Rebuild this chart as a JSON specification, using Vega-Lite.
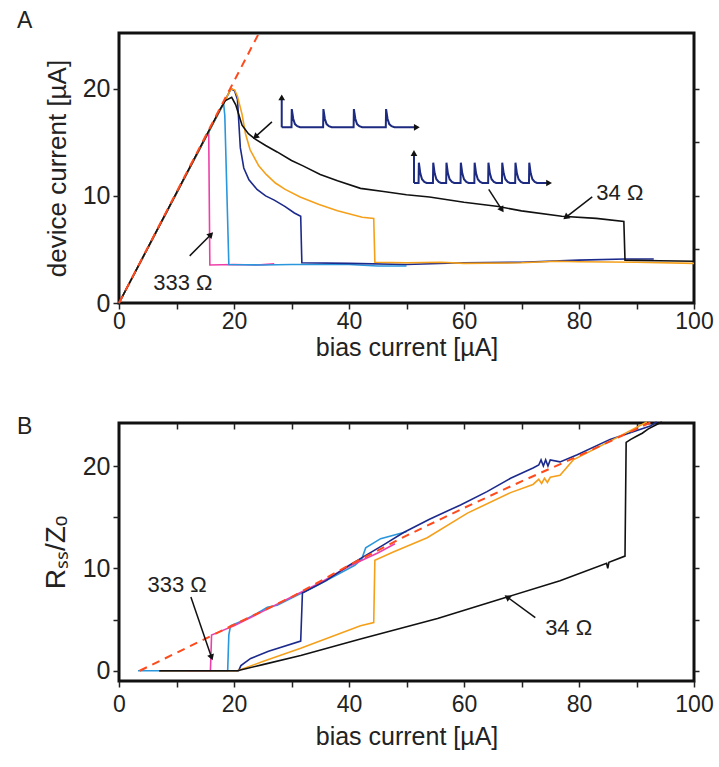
{
  "$schema": "https://vega.github.io/schema/vega-lite/v6.json",
  "background": "white",
  "padding": {"left": 15, "top": 8, "right": 4, "bottom": 4},
  "autosize": {"type": "pad"},
  "spacing": 120,
  "bounds": "flush",
  "config": {
    "view": {"stroke": "#111", "strokeWidth": 3},
    "axis": {"domain": false, "grid": false, "labelFont": "Liberation Sans", "labelFontSize": 23, "labelColor": "#222", "titleFont": "Liberation Sans", "titleFontSize": 25, "titleFontWeight": "normal", "titleColor": "#222", "tickColor": "#222", "tickWidth": 1.5, "tickSize": 6, "labelPadding": 3, "labelOverlap": false, "labelFlush": false},
    "axisY": {"labelFontSize": 25, "titleFontSize": 26},
    "title": {"font": "Liberation Sans", "fontSize": 23, "fontWeight": "normal", "color": "#222", "anchor": "start", "frame": "group"},
    "line": {"clip": true},
    "text": {"font": "Liberation Sans", "fontSize": 22, "color": "#222"}
  },
  "datasets": {
    "topCurves": [
      {"s": "magenta", "x": 0, "y": 0}, {"s": "magenta", "x": 15.6, "y": 16.0}, {"s": "magenta", "x": 15.8, "y": 3.55}, {"s": "magenta", "x": 20, "y": 3.6}, {"s": "magenta", "x": 24, "y": 3.55}, {"s": "magenta", "x": 27, "y": 3.65},
      {"s": "sky", "x": 0, "y": 0}, {"s": "sky", "x": 18.2, "y": 18.6}, {"s": "sky", "x": 18.4, "y": 17.5}, {"s": "sky", "x": 19.1, "y": 3.6}, {"s": "sky", "x": 25, "y": 3.55}, {"s": "sky", "x": 30, "y": 3.6}, {"s": "sky", "x": 40, "y": 3.6}, {"s": "sky", "x": 45, "y": 3.45}, {"s": "sky", "x": 50, "y": 3.45},
      {"s": "navy", "x": 0, "y": 0}, {"s": "navy", "x": 19.5, "y": 20.0}, {"s": "navy", "x": 20.1, "y": 19.8}, {"s": "navy", "x": 20.6, "y": 19.0}, {"s": "navy", "x": 21.1, "y": 14.5}, {"s": "navy", "x": 21.7, "y": 12.6}, {"s": "navy", "x": 22.6, "y": 11.5}, {"s": "navy", "x": 24, "y": 10.6}, {"s": "navy", "x": 25.5, "y": 10.0}, {"s": "navy", "x": 27, "y": 9.6}, {"s": "navy", "x": 28.9, "y": 9.0}, {"s": "navy", "x": 30.5, "y": 8.4}, {"s": "navy", "x": 31.6, "y": 8.1}, {"s": "navy", "x": 31.8, "y": 3.75}, {"s": "navy", "x": 40, "y": 3.7}, {"s": "navy", "x": 50, "y": 3.6}, {"s": "navy", "x": 60, "y": 3.75}, {"s": "navy", "x": 70, "y": 3.8}, {"s": "navy", "x": 80, "y": 4.0}, {"s": "navy", "x": 88, "y": 4.1}, {"s": "navy", "x": 93, "y": 4.1},
      {"s": "orange", "x": 0, "y": 0}, {"s": "orange", "x": 19.5, "y": 20.0}, {"s": "orange", "x": 20.1, "y": 19.9}, {"s": "orange", "x": 20.6, "y": 19.3}, {"s": "orange", "x": 21.4, "y": 17.6}, {"s": "orange", "x": 22, "y": 15.8}, {"s": "orange", "x": 22.8, "y": 14.3}, {"s": "orange", "x": 24.3, "y": 12.8}, {"s": "orange", "x": 25.6, "y": 12.0}, {"s": "orange", "x": 27.2, "y": 11.2}, {"s": "orange", "x": 28.9, "y": 10.6}, {"s": "orange", "x": 31.5, "y": 9.9}, {"s": "orange", "x": 34.8, "y": 9.2}, {"s": "orange", "x": 38, "y": 8.6}, {"s": "orange", "x": 42.3, "y": 8.0}, {"s": "orange", "x": 44.3, "y": 7.9}, {"s": "orange", "x": 44.5, "y": 3.8}, {"s": "orange", "x": 50, "y": 3.75}, {"s": "orange", "x": 56, "y": 3.8}, {"s": "orange", "x": 60, "y": 3.7}, {"s": "orange", "x": 70, "y": 3.75}, {"s": "orange", "x": 76, "y": 3.9}, {"s": "orange", "x": 80, "y": 3.85}, {"s": "orange", "x": 90, "y": 3.8}, {"s": "orange", "x": 100, "y": 3.7},
      {"s": "black", "x": 0, "y": 0}, {"s": "black", "x": 17.5, "y": 18.0}, {"s": "black", "x": 18.5, "y": 18.9}, {"s": "black", "x": 19.6, "y": 19.2}, {"s": "black", "x": 20.3, "y": 18.5}, {"s": "black", "x": 21.4, "y": 16.6}, {"s": "black", "x": 22.5, "y": 15.8}, {"s": "black", "x": 23.7, "y": 15.3}, {"s": "black", "x": 25.5, "y": 14.7}, {"s": "black", "x": 27.5, "y": 14.1}, {"s": "black", "x": 30, "y": 13.3}, {"s": "black", "x": 32, "y": 12.8}, {"s": "black", "x": 35, "y": 12.0}, {"s": "black", "x": 38, "y": 11.4}, {"s": "black", "x": 42, "y": 10.7}, {"s": "black", "x": 46, "y": 10.4}, {"s": "black", "x": 50, "y": 10.1}, {"s": "black", "x": 54, "y": 9.9}, {"s": "black", "x": 60, "y": 9.4}, {"s": "black", "x": 66, "y": 9.0}, {"s": "black", "x": 70, "y": 8.6}, {"s": "black", "x": 77, "y": 8.1}, {"s": "black", "x": 83, "y": 7.9}, {"s": "black", "x": 87.8, "y": 7.6}, {"s": "black", "x": 88, "y": 4.0}, {"s": "black", "x": 94, "y": 3.95}, {"s": "black", "x": 100, "y": 3.9}
    ],
    "topDash": [{"x": 0, "y": 0}, {"x": 24.35, "y": 25.2}],
    "insetSpikes": [
      {"g": "a", "x": 28.3, "y": 16.4},
      {"g": "a", "x": 30.0, "y": 16.4}, {"g": "a", "x": 30.05, "y": 18.1}, {"g": "a", "x": 30.3, "y": 17.2}, {"g": "a", "x": 30.6, "y": 16.7}, {"g": "a", "x": 31.0, "y": 16.5}, {"g": "a", "x": 31.5, "y": 16.4},
      {"g": "a", "x": 35.5, "y": 16.4}, {"g": "a", "x": 35.55, "y": 18.1}, {"g": "a", "x": 35.8, "y": 17.2}, {"g": "a", "x": 36.1, "y": 16.7}, {"g": "a", "x": 36.5, "y": 16.5}, {"g": "a", "x": 37.0, "y": 16.4},
      {"g": "a", "x": 40.8, "y": 16.4}, {"g": "a", "x": 40.85, "y": 18.1}, {"g": "a", "x": 41.1, "y": 17.2}, {"g": "a", "x": 41.4, "y": 16.7}, {"g": "a", "x": 41.8, "y": 16.5}, {"g": "a", "x": 42.3, "y": 16.4},
      {"g": "a", "x": 46.4, "y": 16.4}, {"g": "a", "x": 46.45, "y": 18.1}, {"g": "a", "x": 46.7, "y": 17.2}, {"g": "a", "x": 47.0, "y": 16.7}, {"g": "a", "x": 47.4, "y": 16.5}, {"g": "a", "x": 47.9, "y": 16.4},
      {"g": "a", "x": 51.4, "y": 16.4},
      {"g": "b", "x": 51.3, "y": 11.2},
      {"g": "b", "x": 52.1, "y": 11.2}, {"g": "b", "x": 52.15, "y": 13.1}, {"g": "b", "x": 52.4, "y": 12.1}, {"g": "b", "x": 52.7, "y": 11.55}, {"g": "b", "x": 53.1, "y": 11.3}, {"g": "b", "x": 53.5, "y": 11.2},
      {"g": "b", "x": 54.6, "y": 11.2}, {"g": "b", "x": 54.65, "y": 13.1}, {"g": "b", "x": 54.9, "y": 12.1}, {"g": "b", "x": 55.2, "y": 11.55}, {"g": "b", "x": 55.6, "y": 11.3}, {"g": "b", "x": 56.0, "y": 11.2},
      {"g": "b", "x": 56.9, "y": 11.2}, {"g": "b", "x": 56.95, "y": 13.1}, {"g": "b", "x": 57.2, "y": 12.1}, {"g": "b", "x": 57.5, "y": 11.55}, {"g": "b", "x": 57.9, "y": 11.3}, {"g": "b", "x": 58.3, "y": 11.2},
      {"g": "b", "x": 59.4, "y": 11.2}, {"g": "b", "x": 59.45, "y": 13.1}, {"g": "b", "x": 59.7, "y": 12.1}, {"g": "b", "x": 60.0, "y": 11.55}, {"g": "b", "x": 60.4, "y": 11.3}, {"g": "b", "x": 60.8, "y": 11.2},
      {"g": "b", "x": 61.8, "y": 11.2}, {"g": "b", "x": 61.85, "y": 13.1}, {"g": "b", "x": 62.1, "y": 12.1}, {"g": "b", "x": 62.4, "y": 11.55}, {"g": "b", "x": 62.8, "y": 11.3}, {"g": "b", "x": 63.2, "y": 11.2},
      {"g": "b", "x": 64.2, "y": 11.2}, {"g": "b", "x": 64.25, "y": 13.1}, {"g": "b", "x": 64.5, "y": 12.1}, {"g": "b", "x": 64.8, "y": 11.55}, {"g": "b", "x": 65.2, "y": 11.3}, {"g": "b", "x": 65.6, "y": 11.2},
      {"g": "b", "x": 66.6, "y": 11.2}, {"g": "b", "x": 66.65, "y": 13.1}, {"g": "b", "x": 66.9, "y": 12.1}, {"g": "b", "x": 67.2, "y": 11.55}, {"g": "b", "x": 67.6, "y": 11.3}, {"g": "b", "x": 68.0, "y": 11.2},
      {"g": "b", "x": 68.9, "y": 11.2}, {"g": "b", "x": 68.95, "y": 13.1}, {"g": "b", "x": 69.2, "y": 12.1}, {"g": "b", "x": 69.5, "y": 11.55}, {"g": "b", "x": 69.9, "y": 11.3}, {"g": "b", "x": 70.3, "y": 11.2},
      {"g": "b", "x": 71.3, "y": 11.2}, {"g": "b", "x": 71.35, "y": 13.1}, {"g": "b", "x": 71.6, "y": 12.1}, {"g": "b", "x": 71.9, "y": 11.55}, {"g": "b", "x": 72.3, "y": 11.3}, {"g": "b", "x": 72.7, "y": 11.2},
      {"g": "b", "x": 74.4, "y": 11.2}
    ],
    "insetAxes": [
      {"x": 28.3, "y": 16.4, "x2": 28.3, "y2": 19.0},
      {"x": 51.3, "y": 11.2, "x2": 51.3, "y2": 13.8}
    ],
    "topArrows": [
      {"x": 12.3, "y": 4.4, "x2": 16.0, "y2": 6.4},
      {"x": 26.6, "y": 16.9, "x2": 23.7, "y2": 15.5},
      {"x": 64.3, "y": 10.6, "x2": 66.6, "y2": 8.7},
      {"x": 82.3, "y": 9.9, "x2": 77.7, "y2": 8.0}
    ],
    "topLabels": [
      {"label": "333 Ω", "x": 11.1, "y": 1.9},
      {"label": "34 Ω", "x": 87.1, "y": 10.3}
    ],
    "botCurves": [
      {"s": "sky", "x": 3.3, "y": 0}, {"s": "sky", "x": 18.9, "y": 0}, {"s": "sky", "x": 19.1, "y": 3.5}, {"s": "sky", "x": 19.4, "y": 4.4}, {"s": "sky", "x": 22, "y": 5.0}, {"s": "sky", "x": 24, "y": 5.6}, {"s": "sky", "x": 25.8, "y": 6.2}, {"s": "sky", "x": 27.5, "y": 6.4}, {"s": "sky", "x": 30, "y": 7.1}, {"s": "sky", "x": 34, "y": 8.2}, {"s": "sky", "x": 38, "y": 9.4}, {"s": "sky", "x": 41, "y": 10.3}, {"s": "sky", "x": 42.2, "y": 10.9}, {"s": "sky", "x": 42.9, "y": 12.0}, {"s": "sky", "x": 45.5, "y": 12.9}, {"s": "sky", "x": 49.5, "y": 13.5}, {"s": "sky", "x": 50, "y": 13.6},
      {"s": "magenta", "x": 12, "y": 0}, {"s": "magenta", "x": 15.9, "y": 0}, {"s": "magenta", "x": 16.1, "y": 3.5}, {"s": "magenta", "x": 17, "y": 3.7}, {"s": "magenta", "x": 20, "y": 4.4}, {"s": "magenta", "x": 25, "y": 5.8}, {"s": "magenta", "x": 30, "y": 7.2}, {"s": "magenta", "x": 35, "y": 8.6}, {"s": "magenta", "x": 40, "y": 10.2}, {"s": "magenta", "x": 45, "y": 11.5}, {"s": "magenta", "x": 48, "y": 12.4},
      {"s": "navy", "x": 7, "y": 0}, {"s": "navy", "x": 20.8, "y": 0}, {"s": "navy", "x": 21.2, "y": 0.5}, {"s": "navy", "x": 22.9, "y": 1.2}, {"s": "navy", "x": 26, "y": 1.9}, {"s": "navy", "x": 31.6, "y": 2.9}, {"s": "navy", "x": 31.9, "y": 7.6}, {"s": "navy", "x": 36, "y": 8.8}, {"s": "navy", "x": 40, "y": 10.3}, {"s": "navy", "x": 43, "y": 11.3}, {"s": "navy", "x": 46, "y": 12.3}, {"s": "navy", "x": 49.5, "y": 13.5}, {"s": "navy", "x": 54, "y": 14.8}, {"s": "navy", "x": 59.4, "y": 16.2}, {"s": "navy", "x": 64, "y": 17.5}, {"s": "navy", "x": 68.1, "y": 18.8}, {"s": "navy", "x": 72, "y": 19.8}, {"s": "navy", "x": 73, "y": 20.1}, {"s": "navy", "x": 73.4, "y": 20.6}, {"s": "navy", "x": 73.8, "y": 20.0}, {"s": "navy", "x": 74.2, "y": 20.6}, {"s": "navy", "x": 74.6, "y": 20.0}, {"s": "navy", "x": 75, "y": 20.6}, {"s": "navy", "x": 76.7, "y": 20.4}, {"s": "navy", "x": 79.7, "y": 21.1}, {"s": "navy", "x": 85.4, "y": 22.6}, {"s": "navy", "x": 92.4, "y": 23.9}, {"s": "navy", "x": 93.5, "y": 24.3},
      {"s": "orange", "x": 7, "y": 0}, {"s": "orange", "x": 20.6, "y": 0}, {"s": "orange", "x": 25, "y": 0.9}, {"s": "orange", "x": 31.6, "y": 2.2}, {"s": "orange", "x": 42, "y": 4.4}, {"s": "orange", "x": 44.3, "y": 4.7}, {"s": "orange", "x": 44.5, "y": 10.8}, {"s": "orange", "x": 47.7, "y": 11.6}, {"s": "orange", "x": 53.6, "y": 13.0}, {"s": "orange", "x": 60.6, "y": 15.4}, {"s": "orange", "x": 68.1, "y": 17.4}, {"s": "orange", "x": 72, "y": 18.2}, {"s": "orange", "x": 73, "y": 18.7}, {"s": "orange", "x": 73.5, "y": 18.3}, {"s": "orange", "x": 74, "y": 18.8}, {"s": "orange", "x": 74.5, "y": 18.4}, {"s": "orange", "x": 75, "y": 18.9}, {"s": "orange", "x": 76.7, "y": 19.1}, {"s": "orange", "x": 79, "y": 20.6}, {"s": "orange", "x": 82.5, "y": 21.6}, {"s": "orange", "x": 86, "y": 22.6}, {"s": "orange", "x": 91.8, "y": 24.3},
      {"s": "black", "x": 7, "y": 0}, {"s": "black", "x": 20.6, "y": 0}, {"s": "black", "x": 25, "y": 0.6}, {"s": "black", "x": 31.6, "y": 1.5}, {"s": "black", "x": 42, "y": 3.1}, {"s": "black", "x": 55.4, "y": 5.1}, {"s": "black", "x": 67.5, "y": 7.2}, {"s": "black", "x": 76.7, "y": 8.8}, {"s": "black", "x": 84.8, "y": 10.5}, {"s": "black", "x": 85.0, "y": 10.0}, {"s": "black", "x": 85.2, "y": 10.6}, {"s": "black", "x": 88.0, "y": 11.2}, {"s": "black", "x": 88.2, "y": 22.3}, {"s": "black", "x": 89, "y": 22.6}, {"s": "black", "x": 90, "y": 22.9}, {"s": "black", "x": 91, "y": 23.2}, {"s": "black", "x": 92, "y": 23.6}, {"s": "black", "x": 93, "y": 23.9}, {"s": "black", "x": 94.4, "y": 24.3}
    ],
    "botDash": [{"x": 3.6, "y": 0}, {"x": 16, "y": 3.4}, {"x": 20, "y": 4.5}, {"x": 30, "y": 7.2}, {"x": 40, "y": 10.3}, {"x": 50, "y": 13.2}, {"x": 60, "y": 15.9}, {"x": 70, "y": 18.5}, {"x": 80, "y": 21.0}, {"x": 93, "y": 24.4}],
    "botArrows": [
      {"x": 12.5, "y": 7.2, "x2": 16.1, "y2": 1.3},
      {"x": 72.4, "y": 5.2, "x2": 67.5, "y2": 7.2}
    ],
    "botLabels": [
      {"label": "333 Ω", "x": 10.1, "y": 8.4},
      {"label": "34 Ω", "x": 78.2, "y": 4.2}
    ]
  },
  "vconcat": [
    {
      "width": 575,
      "height": 270,
      "title": {"text": "A", "dx": -102, "offset": -4},
      "resolve": {"axis": {"x": "independent", "y": "independent"}},
      "layer": [
        {
          "data": {"name": "topCurves"},
          "mark": {"type": "line", "strokeWidth": 1.6},
          "encoding": {
            "x": {"field": "x", "type": "quantitative", "scale": {"domain": [0, 100], "nice": false}, "axis": {"values": [0, 10, 20, 30, 40, 50, 60, 70, 80, 90, 100], "labelExpr": "datum.value % 20 === 0 ? datum.label : ''", "title": "bias current [µA]", "labelPadding": 1, "titlePadding": 2}},
            "y": {"field": "y", "type": "quantitative", "scale": {"domain": [0, 25.2], "nice": false}, "axis": {"values": [0, 10, 20], "title": "device current [µA]", "titlePadding": 12}},
            "color": {"field": "s", "type": "nominal", "scale": {"domain": ["magenta", "sky", "navy", "orange", "black"], "range": ["#ee3fa8", "#2a96dc", "#1c2a8c", "#f5a01a", "#111111"]}, "legend": null}
          }
        },
        {
          "data": {"name": "topDash"},
          "mark": {"type": "line", "color": "#ff4a1c", "strokeWidth": 2, "strokeDash": [8, 6]},
          "encoding": {
            "x": {"field": "x", "type": "quantitative", "axis": null},
            "y": {"field": "y", "type": "quantitative", "axis": {"orient": "right", "values": [5, 10, 15, 20], "labels": false, "title": null, "tickSize": 5}}
          }
        },
        {
          "data": {"name": "insetSpikes"},
          "mark": {"type": "line", "color": "#1c2a80", "strokeWidth": 2},
          "encoding": {
            "x": {"field": "x", "type": "quantitative", "axis": null},
            "y": {"field": "y", "type": "quantitative", "axis": null},
            "detail": {"field": "g"}
          }
        },
        {
          "data": {"name": "insetAxes"},
          "mark": {"type": "rule", "color": "#1c2a80", "strokeWidth": 2},
          "encoding": {
            "x": {"field": "x", "type": "quantitative", "axis": null},
            "y": {"field": "y", "type": "quantitative", "axis": null},
            "x2": {"field": "x2"},
            "y2": {"field": "y2"}
          }
        },
        {
          "data": {"values": [{"x": 28.3, "y": 19.2}, {"x": 51.3, "y": 14.0}]},
          "mark": {"type": "point", "shape": "triangle-up", "filled": true, "size": 45, "color": "#111", "opacity": 1},
          "encoding": {"x": {"field": "x", "type": "quantitative", "axis": null}, "y": {"field": "y", "type": "quantitative", "axis": null}}
        },
        {
          "data": {"values": [{"x": 51.8, "y": 16.4}, {"x": 74.8, "y": 11.2}]},
          "mark": {"type": "point", "shape": "triangle-up", "angle": 90, "filled": true, "size": 45, "color": "#111", "opacity": 1},
          "encoding": {"x": {"field": "x", "type": "quantitative", "axis": null}, "y": {"field": "y", "type": "quantitative", "axis": null}}
        },
        {
          "data": {"name": "topArrows"},
          "mark": {"type": "rule", "color": "#111", "strokeWidth": 1.5},
          "encoding": {
            "x": {"field": "x", "type": "quantitative", "axis": null},
            "y": {"field": "y", "type": "quantitative", "axis": null},
            "x2": {"field": "x2"},
            "y2": {"field": "y2"}
          }
        },
        {
          "data": {"values": [{"x": 16.0, "y": 6.4}]},
          "mark": {"type": "point", "shape": "triangle-up", "angle": 44, "filled": true, "size": 50, "color": "#111", "opacity": 1},
          "encoding": {"x": {"field": "x", "type": "quantitative", "axis": null}, "y": {"field": "y", "type": "quantitative", "axis": null}}
        },
        {
          "data": {"values": [{"x": 23.7, "y": 15.5}]},
          "mark": {"type": "point", "shape": "triangle-up", "angle": 229, "filled": true, "size": 50, "color": "#111", "opacity": 1},
          "encoding": {"x": {"field": "x", "type": "quantitative", "axis": null}, "y": {"field": "y", "type": "quantitative", "axis": null}}
        },
        {
          "data": {"values": [{"x": 66.6, "y": 8.7}]},
          "mark": {"type": "point", "shape": "triangle-up", "angle": 147, "filled": true, "size": 50, "color": "#111", "opacity": 1},
          "encoding": {"x": {"field": "x", "type": "quantitative", "axis": null}, "y": {"field": "y", "type": "quantitative", "axis": null}}
        },
        {
          "data": {"values": [{"x": 77.7, "y": 8.0}]},
          "mark": {"type": "point", "shape": "triangle-up", "angle": 232, "filled": true, "size": 50, "color": "#111", "opacity": 1},
          "encoding": {"x": {"field": "x", "type": "quantitative", "axis": null}, "y": {"field": "y", "type": "quantitative", "axis": null}}
        },
        {
          "data": {"name": "topLabels"},
          "mark": {"type": "text", "align": "center", "baseline": "middle"},
          "encoding": {
            "x": {"field": "x", "type": "quantitative", "axis": null},
            "y": {"field": "y", "type": "quantitative", "axis": null},
            "text": {"field": "label"}
          }
        }
      ]
    },
    {
      "width": 575,
      "height": 258,
      "title": {"text": "B", "dx": -102, "offset": -22},
      "resolve": {"axis": {"x": "independent", "y": "independent"}},
      "layer": [
        {
          "data": {"name": "botCurves"},
          "mark": {"type": "line", "strokeWidth": 1.6},
          "encoding": {
            "x": {"field": "x", "type": "quantitative", "scale": {"domain": [0, 100], "nice": false}, "axis": {"values": [0, 10, 20, 30, 40, 50, 60, 70, 80, 90, 100], "labelExpr": "datum.value % 20 === 0 ? datum.label : ''", "title": "bias current [µA]", "labelPadding": 6, "titlePadding": 8}},
            "y": {"field": "y", "type": "quantitative", "scale": {"domain": [-1, 24.2], "nice": false}, "axis": {"values": [0, 5, 10, 15, 20], "labelExpr": "datum.value % 10 === 0 ? datum.label : ''", "title": "Rₛₛ/Zₒ", "titleFontSize": 28, "titlePadding": 12}},
            "color": {"field": "s", "type": "nominal", "scale": {"domain": ["magenta", "sky", "navy", "orange", "black"], "range": ["#ee3fa8", "#2a96dc", "#1c2a8c", "#f5a01a", "#111111"]}, "legend": null}
          }
        },
        {
          "data": {"name": "botDash"},
          "mark": {"type": "line", "color": "#ff4a1c", "strokeWidth": 2, "strokeDash": [8, 6]},
          "encoding": {
            "x": {"field": "x", "type": "quantitative", "axis": {"orient": "top", "values": [10, 20, 30, 40, 50, 60, 70, 80, 90], "labels": false, "title": null, "tickSize": -6}},
            "y": {"field": "y", "type": "quantitative", "axis": {"orient": "right", "values": [0, 5, 10, 15, 20], "labels": false, "title": null, "tickSize": 5}}
          }
        },
        {
          "data": {"name": "botArrows"},
          "mark": {"type": "rule", "color": "#111", "strokeWidth": 1.5},
          "encoding": {
            "x": {"field": "x", "type": "quantitative", "axis": null},
            "y": {"field": "y", "type": "quantitative", "axis": null},
            "x2": {"field": "x2"},
            "y2": {"field": "y2"}
          }
        },
        {
          "data": {"values": [{"x": 16.1, "y": 1.3}]},
          "mark": {"type": "point", "shape": "triangle-up", "angle": 161, "filled": true, "size": 50, "color": "#111", "opacity": 1},
          "encoding": {"x": {"field": "x", "type": "quantitative", "axis": null}, "y": {"field": "y", "type": "quantitative", "axis": null}}
        },
        {
          "data": {"values": [{"x": 67.5, "y": 7.2}]},
          "mark": {"type": "point", "shape": "triangle-up", "angle": 305, "filled": true, "size": 50, "color": "#111", "opacity": 1},
          "encoding": {"x": {"field": "x", "type": "quantitative", "axis": null}, "y": {"field": "y", "type": "quantitative", "axis": null}}
        },
        {
          "data": {"name": "botLabels"},
          "mark": {"type": "text", "align": "center", "baseline": "middle"},
          "encoding": {
            "x": {"field": "x", "type": "quantitative", "axis": null},
            "y": {"field": "y", "type": "quantitative", "axis": null},
            "text": {"field": "label"}
          }
        }
      ]
    }
  ]
}
